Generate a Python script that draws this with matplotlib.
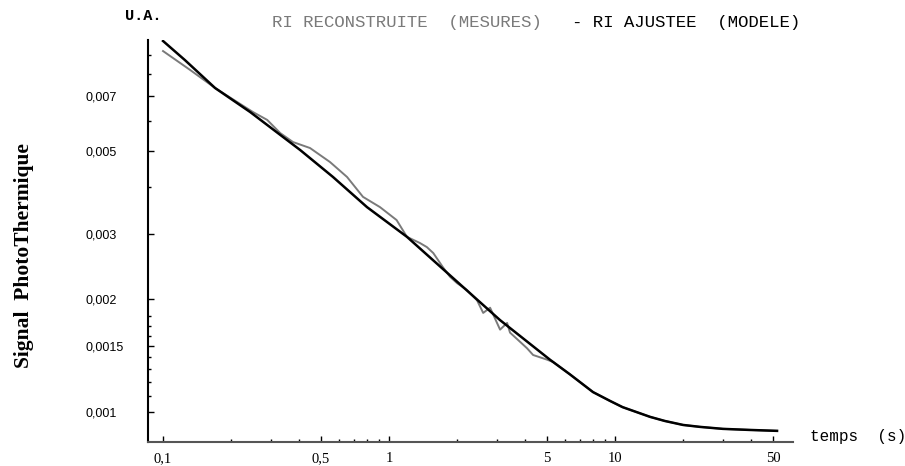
# import necessary libraries
import matplotlib
matplotlib.use("Agg")
import matplotlib.pyplot as plt

# measured curve (RI reconstruite), time in s and signal in arbitrary units
t_mesure = [0.1, 0.132, 0.170, 0.250, 0.289, 0.330, 0.376, 0.447, 0.548, 0.652,
            0.767, 0.912, 1.08, 1.20, 1.37, 1.47, 1.57, 1.73, 1.86, 2.00,
            2.21, 2.45, 2.61, 2.80, 3.10, 3.33, 3.43, 3.80, 4.08, 4.34,
            5.00, 5.32, 6.32, 7.99, 9.51, 10.8, 14.3, 16.6, 20.0, 23.8, 30.0, 39.6, 52.1]
s_mesure = [0.00923, 0.00821, 0.00735, 0.00634, 0.00604, 0.00557, 0.00527, 0.00508, 0.00466, 0.00425,
            0.00376, 0.00353, 0.00326, 0.00294, 0.00283, 0.00276, 0.00266, 0.00244, 0.00230, 0.00221,
            0.00212, 0.00199, 0.00184, 0.00190, 0.00166, 0.00173, 0.00163, 0.00154, 0.00148, 0.00142,
            0.00138, 0.00136, 0.00126, 0.00113, 0.00107, 0.00103, 0.000970, 0.000946, 0.000923, 0.000912,
            0.000901, 0.000895, 0.000890]

# fitted curve (RI ajustee, modele)
t_modele = [0.1, 0.125, 0.170, 0.243, 0.404, 0.565, 0.799, 1.20, 1.86, 3.10,
            5.15, 6.32, 7.99, 9.51, 10.8, 14.3, 16.6, 20.0, 23.8, 30.0, 39.6, 52.1]
s_modele = [0.00982, 0.00873, 0.00735, 0.00634, 0.00502, 0.00425, 0.00353, 0.00294, 0.00232, 0.00176,
            0.00138, 0.00126, 0.00113, 0.00107, 0.00103, 0.000970, 0.000946, 0.000923, 0.000912,
            0.000901, 0.000895, 0.000890]

# axis ticks
xticks = [0.1, 0.5, 1, 5, 10, 50]
xticklabels = ["0,1", "0,5", "1", "5", "10", "50"]
xminor = [0.2, 0.3, 0.4, 0.6, 0.7, 0.8, 0.9, 2, 3, 4, 6, 7, 8, 9, 20, 30, 40]
yticks = [0.001, 0.0015, 0.002, 0.003, 0.005, 0.007]
yticklabels = ["0,001", "0,0015", "0,002", "0,003", "0,005", "0,007"]
yminor = [0.0011, 0.0012, 0.0013, 0.0014, 0.0016, 0.0017, 0.0018, 0.004, 0.006, 0.008, 0.009]

fig = plt.figure(figsize=(9.05, 4.66), dpi=100)
ax = fig.add_axes([148 / 905, 24 / 466, 645 / 905, 402 / 466])

ax.plot(t_mesure, s_mesure, color="#7a7a7a", linewidth=1.4)
ax.plot(t_modele, s_modele, color="black", linewidth=1.8)

ax.set_xscale("log")
ax.set_yscale("log")
ax.set_xlim(0.0858, 61.3)
ax.set_ylim(0.000831, 0.00988)

# only left and bottom axes
ax.spines["top"].set_visible(False)
ax.spines["right"].set_visible(False)
ax.spines["left"].set_linewidth(1.5)
ax.spines["bottom"].set_linewidth(1.5)
ax.spines["bottom"].set_color("#555555")

ax.set_xticks(xticks)
ax.set_xticklabels(xticklabels, family="Liberation Serif", fontsize=10.5)
ax.set_xticks(xminor, minor=True)
ax.set_xticklabels([], minor=True)
ax.set_yticks(yticks)
ax.set_yticklabels(yticklabels, family="Liberation Sans", fontsize=9)
ax.set_yticks(yminor, minor=True)
ax.set_yticklabels([], minor=True)

ax.tick_params(axis="both", which="major", direction="in", length=4, width=1)
ax.tick_params(axis="both", which="minor", direction="in", length=2.5, width=1)
ax.tick_params(axis="x", which="major", pad=7)
ax.tick_params(axis="y", which="major", pad=45)
for label in ax.get_yticklabels():
    label.set_horizontalalignment("left")

# texts around the plot
fig.text(24 / 905, 1 - 256 / 466, "Signal  PhotoThermique", rotation=90,
         family="Liberation Serif", fontweight="bold", fontsize=15.5, ha="center", va="center")
fig.text(125 / 905, 1 - 16 / 466, "U.A.", family="Liberation Mono", fontweight="bold",
         fontsize=11, ha="left", va="center")
fig.text(272 / 905, 1 - 23 / 466, "RI RECONSTRUITE  (MESURES)", family="Liberation Mono",
         color="#7a7a7a", fontsize=12.5, ha="left", va="center")
fig.text(572 / 905, 1 - 23 / 466, "- RI AJUSTEE  (MODELE)", family="Liberation Mono",
         color="black", fontsize=12.5, ha="left", va="center")
fig.text(810 / 905, 1 - 437 / 466, "temps  (s)", family="Liberation Mono",
         fontsize=11.5, ha="left", va="center")

plt.savefig("out.png", dpi=100)
